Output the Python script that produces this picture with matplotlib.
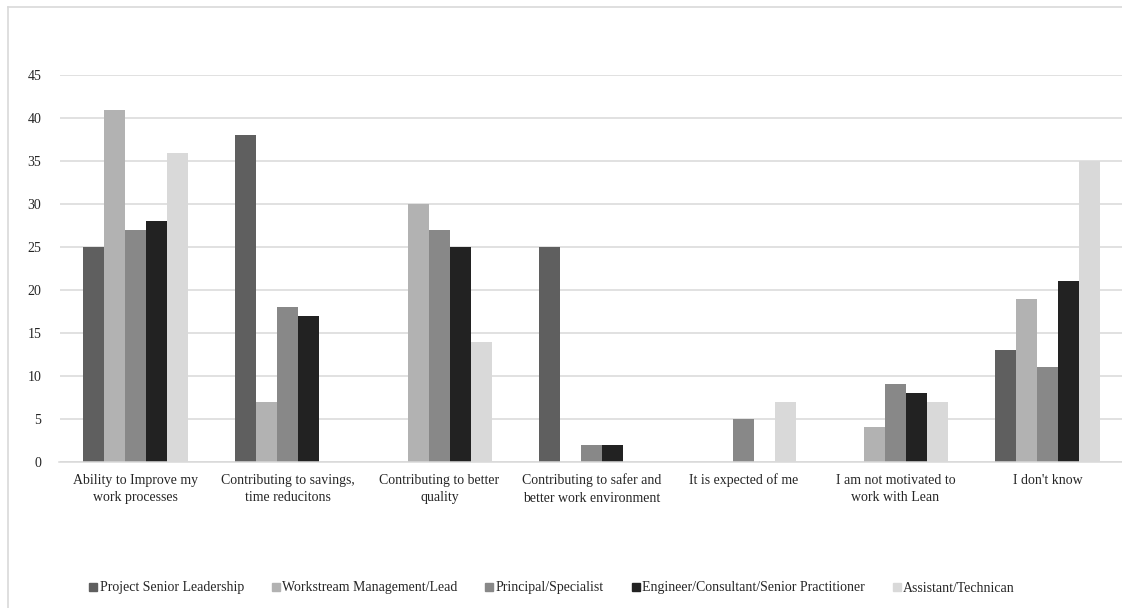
import matplotlib
matplotlib.use("Agg")
import matplotlib.pyplot as plt
from matplotlib.lines import Line2D
import numpy as np

plt.rcParams['font.family'] = ['Liberation Serif', 'DejaVu Serif']

categories = [
    "Ability to Improve my\nwork processes",
    "Contributing to savings,\ntime reducitons",
    "Contributing to better\nquality",
    "Contributing to safer and\nbetter work environment",
    "It is expected of me",
    "I am not motivated to\nwork with Lean",
    "I don't know",
]

series_names = [
    "Project Senior Leadership",
    "Workstream Management/Lead",
    "Principal/Specialist",
    "Engineer/Consultant/Senior Practitioner",
    "Assistant/Technican",
]

project_senior_leadership = [25, 38, 0, 25, 0, 0, 13]
workstream_management = [41, 7, 30, 0, 0, 4, 19]
principal_specialist = [27, 18, 27, 2, 5, 9, 11]
engineer_consultant = [28, 17, 25, 2, 0, 8, 21]
assistant_technician = [36, 0, 14, 0, 7, 7, 35]

series_values = [
    project_senior_leadership,
    workstream_management,
    principal_specialist,
    engineer_consultant,
    assistant_technician,
]

y_ticks = [0, 5, 10, 15, 20, 25, 30, 35, 40, 45]

colors = ["#5f5f5f", "#b2b2b2", "#888888", "#222222", "#d9d9d9"]
grid_color = "#d9d9d9"

W, H = 1122, 608
fig = plt.figure(figsize=(W / 100, H / 100), dpi=100)
fig.patch.set_facecolor("white")

# outer chart frame (light border on top and left)
fig.add_artist(Line2D([8 / W, 1.0], [1 - 7 / H, 1 - 7 / H], color=grid_color, lw=1.2,
                      transform=fig.transFigure))
fig.add_artist(Line2D([8 / W, 8 / W], [0.0, 1 - 7 / H], color=grid_color, lw=1.2,
                      transform=fig.transFigure))

left, right = 59.5, 1123.5
bottom, top = 461.7, 75.4
ax = fig.add_axes([left / W, 1 - bottom / H, (right - left) / W, (bottom - top) / H])

n_series = len(series_values)
x = np.arange(len(categories))
bar_w = 0.138
offsets = (np.arange(n_series) - (n_series - 1) / 2) * bar_w

for i, (vals, name, col) in enumerate(zip(series_values, series_names, colors)):
    ax.bar(x + offsets[i], vals, width=bar_w, color=col, label=name, zorder=3,
           linewidth=0)

ax.set_xlim(-0.5, len(categories) - 0.5)
ax.set_ylim(0, 45)
ax.set_yticks(y_ticks)
ax.set_xticks(x)
ax.set_xticklabels(categories, fontsize=10, color="#262626", linespacing=1.45)
ax.tick_params(axis="x", length=0, pad=8.5)
ax.tick_params(axis="y", length=0, pad=13, labelsize=10, labelcolor="#262626")

ax.yaxis.grid(True, color=grid_color, lw=1.1, zorder=0)
ax.set_axisbelow(True)
for s in ["left", "right", "top"]:
    ax.spines[s].set_visible(False)
ax.spines["bottom"].set_color(grid_color)
ax.spines["bottom"].set_linewidth(1.1)
ax.spines["bottom"].set_zorder(4)

handles = [Line2D([0], [0], marker="s", linestyle="none", markersize=5.5,
                  markerfacecolor=c, markeredgecolor=c) for c in colors]
fig.legend(handles, series_names, loc="center", bbox_to_anchor=(552 / W, 1 - 588 / H),
           ncol=5, frameon=False, fontsize=10, handlelength=0.6, handletextpad=0.15,
           columnspacing=2.0, labelcolor="#262626")

fig.savefig("out.png", dpi=100, facecolor="white")
